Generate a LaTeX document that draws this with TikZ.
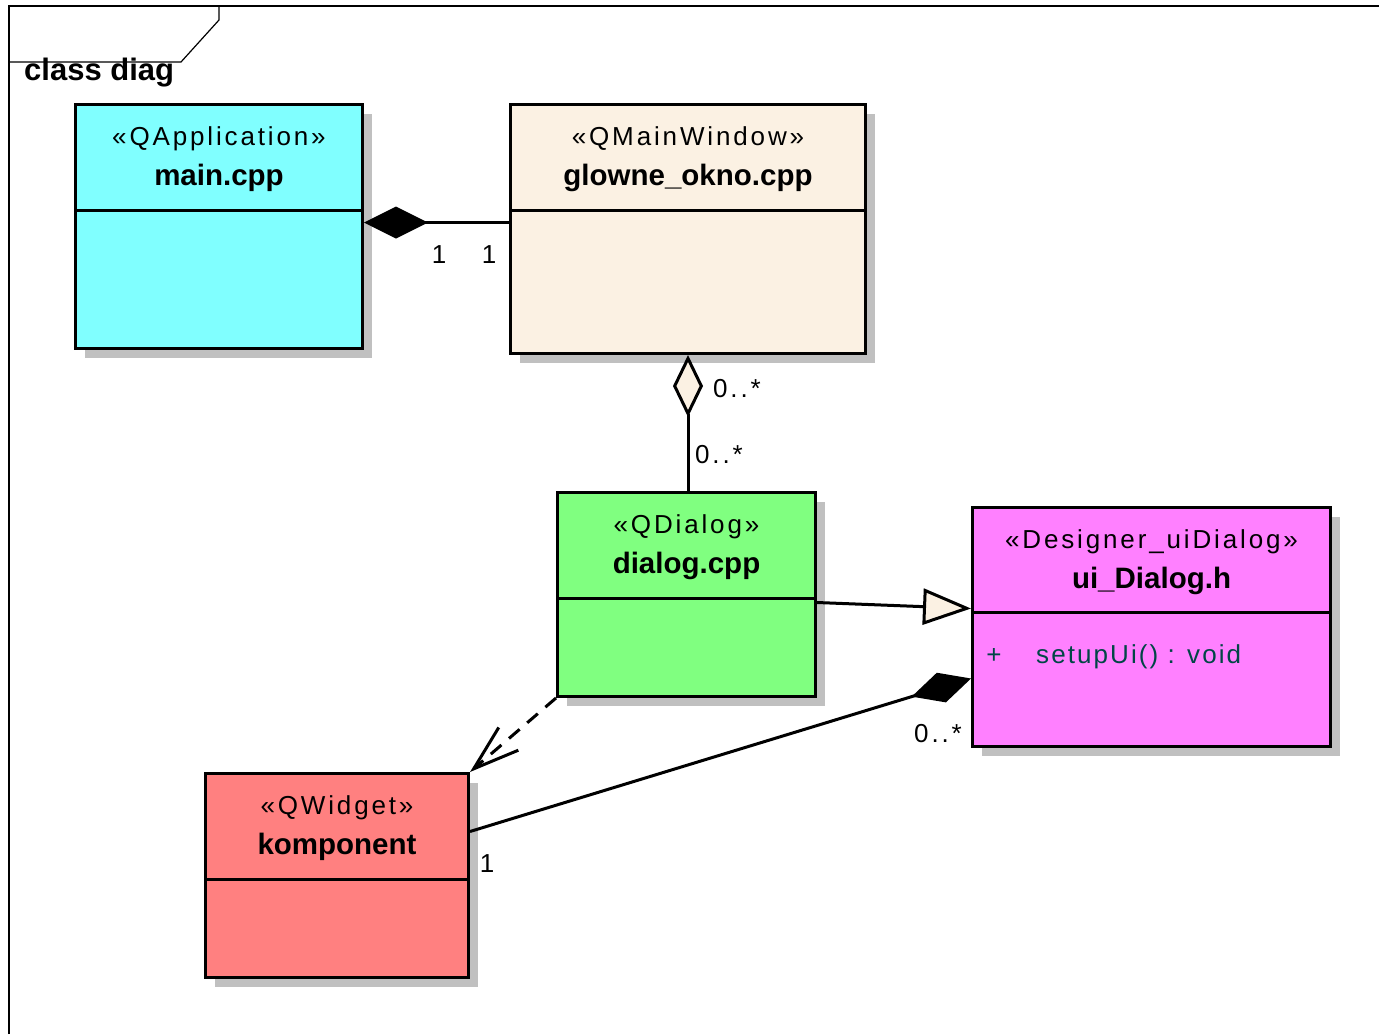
\documentclass[tikz,border=0pt]{standalone}
\usepackage{fontspec}
\setmainfont{Liberation Sans}
\newfontfamily\umlfont[LetterSpace=11]{Liberation Sans}
\newfontfamily\umlattrfont[LetterSpace=8]{Liberation Sans}
\usetikzlibrary{arrows.meta,shadows,calc}

\definecolor{appcyan}{HTML}{80FFFF}
\definecolor{winbeige}{HTML}{FBF1E3}
\definecolor{dlggreen}{HTML}{80FF80}
\definecolor{uipink}{HTML}{FF80FF}
\definecolor{widgetred}{HTML}{FF8080}
\definecolor{shadegray}{HTML}{C0C0C0}
\definecolor{attrteal}{HTML}{004646}

\begin{document}
\begin{tikzpicture}[x=1pt,y=-1pt,
  classbox/.style={draw=black, line width=3pt, inner sep=0pt, anchor=north west,
    drop shadow={shadow xshift=9pt, shadow yshift=-9pt, fill=shadegray, opacity=1}},
  divider/.style={line width=3pt},
  stereo/.style={anchor=base, inner sep=0pt, font=\umlfont\fontsize{26}{30}\selectfont},
  cname/.style={anchor=base, inner sep=0pt, font=\bfseries\fontsize{29.5}{34}\selectfont},
  attr/.style={inner sep=0pt, text=attrteal, font=\umlattrfont\fontsize{26}{30}\selectfont},
  mult/.style={anchor=base, inner sep=0pt, font=\umlfont\fontsize{26}{30}\selectfont},
  assoc/.style={line width=3pt},
  frameline/.style={line width=1.2pt}
]
\useasboundingbox (0,0) rectangle (1379,1034);

% diagram frame with its name tab
\draw[frameline] (9,1034) -- (9,6) -- (1379,6);
\draw[frameline] (9,62) -- (181,62) -- (219,20) -- (219,6);
\node[anchor=base west, inner sep=0pt, font=\bfseries\fontsize{31}{36}\selectfont] (title) at (24,80) {class diag};

% classes
\node[classbox, fill=appcyan, minimum width=287, minimum height=244] (main) at (74,103) {};
\node[classbox, fill=winbeige, minimum width=355, minimum height=249] (glowne) at (509,103) {};
\node[classbox, fill=dlggreen, minimum width=258, minimum height=204] (dialog) at (556,491) {};
\node[classbox, fill=uipink, minimum width=358, minimum height=239] (ui) at (971,506) {};
\node[classbox, fill=widgetred, minimum width=263, minimum height=204] (komp) at (204,772) {};

% compartment dividers
\draw[divider] ($(main.north west)+(0,107)$) -- ($(main.north east)+(0,107)$);
\draw[divider] ($(glowne.north west)+(0,107)$) -- ($(glowne.north east)+(0,107)$);
\draw[divider] ($(dialog.north west)+(0,107)$) -- ($(dialog.north east)+(0,107)$);
\draw[divider] ($(ui.north west)+(0,106)$) -- ($(ui.north east)+(0,106)$);
\draw[divider] ($(komp.north west)+(0,107)$) -- ($(komp.north east)+(0,107)$);

% class headers
\node[stereo] (mainst) at ($(main.north)+(0,42)$) {«QApplication»};
\node[cname]  (mainnm) at ($(main.north)+(0,82)$) {main.cpp};
\node[stereo] (glst) at ($(glowne.north)+(0,42)$) {«QMainWindow»};
\node[cname]  (glnm) at ($(glowne.north)+(0,82)$) {glowne\_okno.cpp};
\node[stereo] (dlst) at ($(dialog.north)+(0,42)$) {«QDialog»};
\node[cname]  (dlnm) at ($(dialog.north)+(0,82)$) {dialog.cpp};
\node[stereo] (uist) at ($(ui.north)+(0,42)$) {«Designer\_uiDialog»};
\node[cname]  (uinm) at ($(ui.north)+(0,82)$) {ui\_Dialog.h};
\node[stereo] (kpst) at ($(komp.north)+(0,42)$) {«QWidget»};
\node[cname]  (kpnm) at ($(komp.north)+(0,82)$) {komponent};

% operation of ui_Dialog.h
\node[attr, anchor=base] (uivis) at (994,663) {+};
\node[attr, anchor=base west] (uiop) at (1036,663) {setupUi() : void};

% connectors
\coordinate (mainlink) at ([yshift=4pt]main.east);
\draw[assoc, {Diamond[length=64pt,width=32pt,fill=black]}-] (mainlink) -- (mainlink -| glowne.west);

\draw[assoc, {Diamond[length=62pt,width=30pt,fill=winbeige]}-] (glowne.south) -- (glowne.south |- dialog.north);

\draw[assoc, -{Triangle[length=48pt,width=36pt,fill=winbeige]}] ([yshift=-8pt]dialog.east) -- ([yshift=18.5pt]ui.west);

\draw[assoc, dash pattern=on 14pt off 10pt, -{Straight Barb[length=46pt,width=30pt]}] (dialog.south west) -- (komp.north east);

\draw[assoc, -{Diamond[length=62pt,width=31pt,fill=black]}] ([yshift=44pt]komp.east) -- ([yshift=-51.5pt]ui.west);

% multiplicities
\node[mult] (m1) at (439,263) {1};
\node[mult] (m2) at (489,263) {1};
\node[mult, anchor=base west] (m3) at (713,397) {0..*};
\node[mult, anchor=base west] (m4) at (695,463) {0..*};
\node[mult, anchor=base west] (m5) at (914,742) {0..*};
\node[mult] (m6) at (487,872) {1};
\end{tikzpicture}
\end{document}
